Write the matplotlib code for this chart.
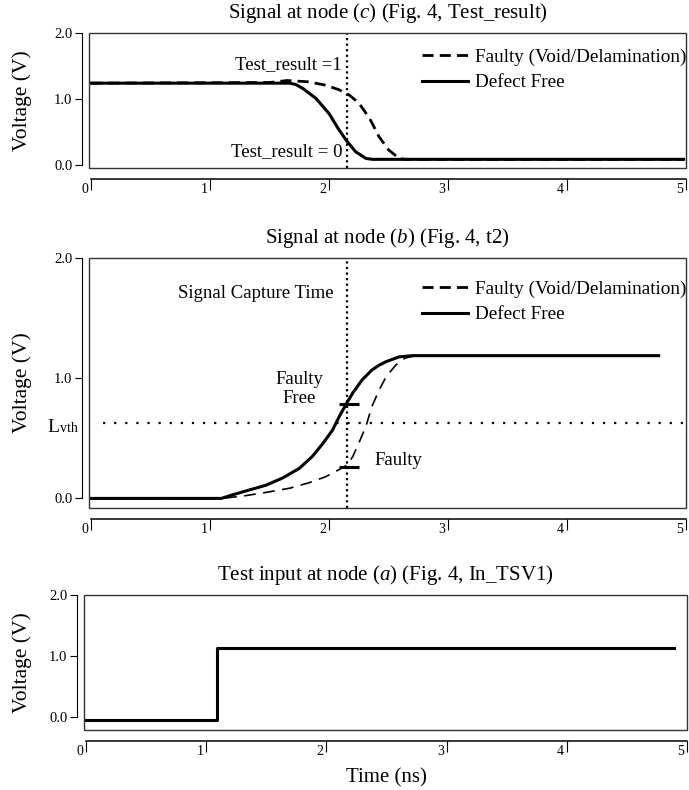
import numpy as np
import matplotlib
matplotlib.use('Agg')
import matplotlib.pyplot as plt
from matplotlib.lines import Line2D
from matplotlib.patches import Rectangle
from matplotlib.ticker import FormatStrFormatter
import matplotlib.transforms as mtransforms

plt.rcParams['font.family'] = ['Liberation Serif', 'DejaVu Serif']
plt.rcParams['mathtext.fontset'] = 'custom'
plt.rcParams['mathtext.rm'] = 'Liberation Serif'
plt.rcParams['mathtext.it'] = 'Liberation Serif:italic'

# Data (time in ns, voltage in V)
# node (c): Test_result
c_t_free = [0.0, 1.67, 1.72, 1.78, 1.89, 2.00, 2.085, 2.155, 2.225, 2.31, 2.365, 4.98]
c_v_free = [1.24, 1.24, 1.22, 1.16, 1.01, 0.78, 0.53, 0.35, 0.20, 0.10, 0.086, 0.086]
c_t_faulty = [0.0, 1.50, 1.65, 1.83, 1.97, 2.085, 2.17, 2.25, 2.34, 2.42, 2.50, 2.59, 2.64, 4.98]
c_v_faulty = [1.24, 1.25, 1.28, 1.26, 1.21, 1.14, 1.06, 0.94, 0.71, 0.43, 0.23, 0.10, 0.086, 0.086]

# node (b): t2
b_t_free = [0.0, 1.095, 1.19, 1.33, 1.47, 1.61, 1.75, 1.86, 1.95, 2.03, 2.085, 2.14, 2.20,
            2.28, 2.36, 2.42, 2.48, 2.59, 2.70, 2.755, 4.77]
b_v_free = [0.0, 0.0, 0.03, 0.07, 0.11, 0.17, 0.25, 0.35, 0.46, 0.57, 0.68, 0.78, 0.88,
            0.99, 1.07, 1.11, 1.14, 1.18, 1.19, 1.19, 1.19]
b_t_faulty = [0.0, 1.095, 1.28, 1.47, 1.67, 1.83, 1.97, 2.085, 2.155, 2.20, 2.25, 2.31,
              2.36, 2.42, 2.48, 2.56, 2.64, 2.73, 4.45]
b_v_faulty = [0.0, 0.0, 0.02, 0.05, 0.085, 0.13, 0.18, 0.24, 0.28, 0.35, 0.46, 0.60,
              0.765, 0.90, 1.015, 1.11, 1.17, 1.19, 1.19]
lvth = 0.63
capture_time = 2.155
mark_free = 0.79
mark_faulty = 0.26

# node (a): In_TSV1
a_t = [0.0, 1.09, 1.09, 4.89]
a_v = [-0.05, -0.05, 1.13, 1.13]

xticks = [0, 1, 2, 3, 4, 5]
yticks = [0.0, 1.0, 2.0]

faulty_label = 'Faulty (Void/Delamination)'
free_label = 'Defect Free'

fig = plt.figure(figsize=(6.89, 7.90), dpi=100)
W, H = 689, 790
ax_c = fig.add_axes([89 / W, 1 - 168 / H, 597 / W, 135 / H])
ax_b = fig.add_axes([89 / W, 1 - 508 / H, 597 / W, 250 / H])
ax_a = fig.add_axes([84 / W, 1 - 730 / H, 603 / W, 135 / H])

dash_thick = (0, (4, 2.2))
dot_v = (0, (1, 1.5))


def style(ax, xlim, ylim, ylabel_x):
    ax.set_xlim(*xlim)
    ax.set_ylim(*ylim)
    ax.spines['top'].set_visible(False)
    ax.spines['right'].set_visible(False)
    ax.spines['left'].set_position(('outward', 5))
    ax.spines['bottom'].set_position(('outward', 8))
    ax.spines['left'].set_bounds(0, 2)
    ax.spines['bottom'].set_bounds(0, 5)
    ax.spines['left'].set_linewidth(0.8)
    ax.spines['bottom'].set_linewidth(1.1)
    ax.add_patch(Rectangle((0, 0), 1, 1, transform=ax.transAxes, fill=False,
                           ec='#333333', lw=1.0, clip_on=False, zorder=5))
    ax.set_xticks(xticks)
    ax.set_yticks(yticks)
    ax.yaxis.set_major_formatter(FormatStrFormatter('%.1f'))
    ax.tick_params(axis='y', direction='out', length=5, width=0.8, pad=2, labelsize=10.5)
    ax.tick_params(axis='x', direction='out', length=8, width=0.8, pad=-5, labelsize=10)
    off = mtransforms.ScaledTranslation(-2 / 72, 0, fig.dpi_scale_trans)
    for lbl in ax.get_xticklabels():
        lbl.set_ha('right')
        lbl.set_transform(lbl.get_transform() + off)
    ax.set_ylabel('Voltage (V)', fontsize=15.5)
    ax.yaxis.set_label_coords(ylabel_x, 0.5)


def legend(ax, y):
    handles = [Line2D([], [], color='k', ls=dash_thick, lw=2.0),
               Line2D([], [], color='k', lw=2.2)]
    ax.legend(handles, [faulty_label, free_label], loc='upper right',
              bbox_to_anchor=(1.0, y), frameon=False, fontsize=13.8,
              handlelength=2.4, handletextpad=0.35, labelspacing=0.42,
              borderpad=0, borderaxespad=0)


# ---- node (c)
ax = ax_c
ax.plot(c_t_faulty, c_v_faulty, color='k', lw=2.0, ls=dash_thick)
ax.plot(c_t_free, c_v_free, color='k', lw=2.2)
ax.axvline(capture_time, color='k', lw=1.6, ls=dot_v)
ax.text(2.11, 1.52, 'Test_result =1', ha='right', va='center', fontsize=13.5)
ax.text(2.11, 0.20, 'Test_result = 0', ha='right', va='center', fontsize=13.5)
style(ax, (-0.017, 4.983), (-0.045, 2.0), -0.095)
legend(ax, 0.885)
ax.set_title(r'Signal at node $\mathit{(c)}$ (Fig. 4, Test_result)', fontsize=15, pad=11)

# ---- node (b)
ax = ax_b
ax.plot(b_t_faulty, b_v_faulty, color='k', lw=1.2, ls=(0, (7, 4.5)))
ax.plot(b_t_free, b_v_free, color='k', lw=2.2)
ax.axvline(capture_time, color='k', lw=1.6, ls=dot_v)
ax.hlines(lvth, 0.1, 4.98, color='k', lw=1.6, ls=(0, (1, 4)))
ax.hlines([mark_free, mark_faulty], 2.085, 2.253, color='k', lw=2.2)
ax.text(2.035, 1.71, 'Signal Capture Time', ha='right', va='center', fontsize=13.5)
ax.text(1.75, 0.91, 'Faulty\nFree', ha='center', va='center', fontsize=13.5,
        linespacing=1.15)
ax.text(2.38, 0.32, 'Faulty', ha='left', va='center', fontsize=13.5)
ax.text(-0.07, 0.55, 'L', transform=ax.get_yaxis_transform(), ha='left',
        va='baseline', fontsize=14)
ax.text(-0.049, 0.55, 'vth', transform=ax.get_yaxis_transform(), ha='left',
        va='baseline', fontsize=10)
style(ax, (-0.017, 4.983), (-0.08, 2.004), -0.095)
legend(ax, 0.91)
ax.set_title(r'Signal at node $\mathit{(b)}$ (Fig. 4, t2)', fontsize=15, pad=11)

# ---- node (a)
ax = ax_a
ax.plot(a_t, a_v, color='k', lw=2.2)
style(ax, (-0.017, 5.0), (-0.21, 2.0), -0.086)
ax.set_title(r'Test input at node $\mathit{(a)}$ (Fig. 4, In_TSV1)', fontsize=15, pad=11)
ax.set_xlabel('Time (ns)', fontsize=15)
ax.xaxis.set_label_coords(0.502, -0.285)
ax.xaxis.label.set_va('top')

fig.savefig('out.png', dpi=100)
